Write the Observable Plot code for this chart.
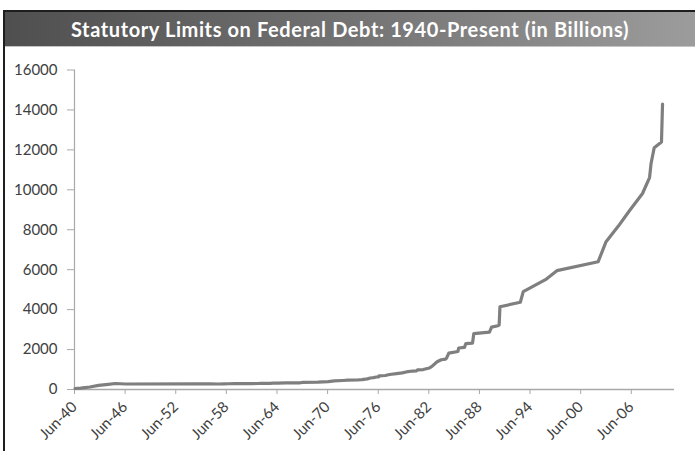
<!DOCTYPE html>
<html>
<head>
<meta charset="utf-8">
<script src="https://cdn.jsdelivr.net/npm/d3@7"></script>
<script src="https://cdn.jsdelivr.net/npm/@observablehq/plot@0.6"></script>
<style>
  html, body { margin: 0; padding: 0; background: #fff; }
  #frame { position: relative; width: 695px; height: 451px; overflow: hidden; background: #fff; }
  #topline { position: absolute; left: 3px; top: 10px; right: 0; height: 2px; background: #1e1e1e; }
  #leftline { position: absolute; left: 3px; top: 10px; width: 2px; bottom: 0; background: #1e1e1e; }
  #title { position: absolute; left: 5px; top: 12px; right: 0; height: 34px;
    background: linear-gradient(to right, #4f4f4f, #737373 50%, #9c9c9c);
    border-bottom: 1px solid #c4c4c4; color: #fff; font-family: Lato, sans-serif; font-weight: 700;
    font-size: 20px; letter-spacing: 0.6px; line-height: 34px; text-align: center; }
  #chart { position: absolute; left: 0; top: 48px; }
  #chart svg text { font-family: Lato, sans-serif; }
</style>
</head>
<body>
<div id="frame">
  <div id="title">Statutory Limits on Federal Debt: 1940-Present (in Billions)</div>
  <div id="topline"></div>
  <div id="leftline"></div>
  <div id="chart"></div>
</div>
<script>
const limitDates = [
  "1940-06-25","1941-02-19","1942-03-28","1943-04-11","1944-06-09","1945-04-03","1946-06-26",
  "1954-08-28","1956-07-09","1957-07-01","1958-02-26","1958-09-02","1959-06-30","1960-06-30",
  "1961-06-30","1962-03-13","1962-07-01","1963-05-29","1963-08-27","1963-11-26","1964-06-29",
  "1965-06-24","1966-06-24","1967-03-02","1967-06-30","1969-04-07","1970-06-30","1971-03-17",
  "1972-03-15","1972-10-27","1973-12-03","1974-06-30","1975-02-19","1975-06-30","1975-11-14",
  "1976-03-15","1976-06-30","1976-07-01","1977-04-01","1977-10-04","1978-08-03","1979-04-02",
  "1979-09-29","1980-06-28","1980-12-19","1981-02-07","1981-09-30","1982-06-28","1982-09-30",
  "1983-05-26","1983-11-21","1984-05-25","1984-07-06","1984-10-13","1985-11-14","1985-12-12",
  "1986-08-21","1986-10-21","1987-07-30","1987-08-10","1987-09-29","1989-08-07","1989-11-08",
  "1990-08-09","1990-10-02","1990-11-05","1993-04-06","1993-08-10","1996-03-29","1997-08-05",
  "2002-06-28","2003-05-27","2004-11-19","2006-03-20","2007-09-29","2008-07-30","2008-10-03",
  "2009-02-17","2009-12-28","2010-02-12"
];
const limitValues = [
  49, 65, 125, 210, 260, 300, 275,
  281, 278, 275, 280, 288, 295, 293,
  298, 300, 308, 305, 309, 315, 324,
  328, 330, 336, 358, 365, 395, 430,
  450, 465, 475.7, 495, 531, 577, 595,
  627, 636, 682, 700, 752, 798, 830,
  879, 925, 935.1, 985, 999.8, 1079.8, 1143.1,
  1389, 1490, 1520, 1573, 1823.8, 1903.8, 2078.7,
  2111, 2300, 2320, 2352, 2800, 2870, 3122.7,
  3195, 3230, 4145, 4370, 4900, 5500, 5950,
  6400, 7384, 8184, 8965, 9815, 10615, 11315,
  12104, 12394, 14294
];
const tickYears = [1940, 1946, 1952, 1958, 1964, 1970, 1976, 1982, 1988, 1994, 2000, 2006];
const yTicks = [0, 2000, 4000, 6000, 8000, 10000, 12000, 14000, 16000];

const parse = d3.utcParse("%Y-%m-%d");
const data = limitDates.map((d, i) => ({date: parse(d), value: limitValues[i]}));
const xTicks = tickYears.map(y => new Date(Date.UTC(y, 5, 1)));
const xStart = new Date(Date.UTC(1940, 5, 1));
const xEnd = new Date(Date.UTC(2011, 6, 15));

const chart = Plot.plot({
  width: 695,
  height: 403,
  marginLeft: 74,
  marginRight: 21,
  marginTop: 21.5,
  marginBottom: 62,
  style: {fontFamily: "Lato, sans-serif", fontSize: "15px", background: "transparent"},
  x: {type: "utc", domain: [xStart, xEnd]},
  y: {domain: [0, 16000]},
  marks: [
    Plot.ruleX([xStart], {stroke: "#a8a8a8", strokeWidth: 1.2}),
    Plot.ruleY([0], {stroke: "#a8a8a8", strokeWidth: 1.5}),
    Plot.axisY({ticks: yTicks, tickSize: 7, tickPadding: 10, tickFormat: d3.format("d"),
      stroke: "#a8a8a8", fill: "#404040", fontSize: 15, label: null}),
    Plot.axisX({ticks: xTicks, tickSize: 5, tickPadding: 10, tickRotate: -45, fontSize: 15,
      tickFormat: d3.utcFormat("%b-%y"), stroke: "#a8a8a8", fill: "#404040", label: null}),
    Plot.line(data, {x: "date", y: "value", stroke: "#7f7f7f", strokeWidth: 3.2, strokeLinejoin: "round"})
  ]
});
document.getElementById("chart").appendChild(chart);
</script>
</body>
</html>
